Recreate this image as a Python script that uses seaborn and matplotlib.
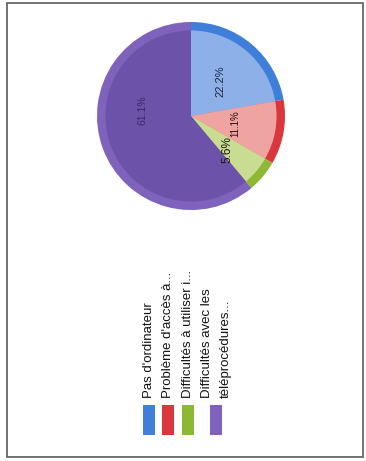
import matplotlib
matplotlib.use("Agg")
import matplotlib.pyplot as plt
from matplotlib.patches import Rectangle
import seaborn as sns

# ---- data ----
categories = ["Pas d'ordinateur", "Problème d'accès à...", "Difficultés à utiliser i...",
              "Difficultés avec les\ntéléprocédures..."]
values = [4, 2, 1, 11]
pct_labels = ["22.2%", "11.1%", "5.6%", "61.1%"]

sns.set_style("white")
plt.rcParams['font.family'] = ['Liberation Sans', 'DejaVu Sans']

ring_colors = sns.color_palette(["#3f7fd9", "#d8383c", "#8cb833", "#7e62bc"])
fill_colors = sns.color_palette(["#8db0e8", "#f0a4a2", "#c8dd92", "#6c52a8"])
label_colors = ["#1a2440", "#2a1010", "#1a1a10", "#3a2a62"]
label_sizes = [8, 7, 8.5, 7.5]

W, H = 366, 461
fig = plt.figure(figsize=(W / 100, H / 100), dpi=100)
fig.patch.set_facecolor("white")
ax = fig.add_axes([0, 0, 1, 1])

cx, cy, r = 191, H - 116, 94

# outer ring
ax.pie(values, colors=ring_colors, startangle=90, counterclock=False,
       center=(cx, cy), radius=r, frame=True,
       wedgeprops=dict(linewidth=0))
# inner fill
wedges, texts, autotexts = ax.pie(values, colors=fill_colors, startangle=90, counterclock=False,
                                  center=(cx, cy), radius=r * 0.91, frame=True,
                                  autopct=lambda p: "", pctdistance=0.53,
                                  wedgeprops=dict(linewidth=0))
for i, t in enumerate(autotexts):
    t.set_text(pct_labels[i])
    t.set_rotation(90)
    t.set_fontsize(label_sizes[i])
    t.set_color(label_colors[i])
    t.set_ha("center")
    t.set_va("center")
autotexts[3].set_position((143, H - 110))
autotexts[1].set_position((235, H - 124))
autotexts[2].set_position((227, H - 150))

ax.set_xlim(0, W)
ax.set_ylim(0, H)
ax.set_aspect("equal")
ax.axis("off")

# legend (rotated, as in the scan)
rect_x = [143, 162, 182, 210]
for i, lab in enumerate(categories):
    ax.add_patch(Rectangle((rect_x[i], H - 435), 12, 30, facecolor=ring_colors[i], edgecolor="none"))
lines_x = [149, 168, 188, 207, 226]
legend_lines = ["Pas d'ordinateur", "Problème d'accès à...", "Difficultés à utiliser i...",
                "Difficultés avec les", "téléprocédures..."]
for x, txt in zip(lines_x, legend_lines):
    ax.text(x, H - 398, txt, rotation=90, ha="center", va="bottom",
            fontsize=9.5, color="#111111")

# frame border
ax.add_patch(Rectangle((7, H - 457), 356, 454, facecolor="none", edgecolor="#5a5a5a", linewidth=1.2))

fig.savefig("out.png", dpi=100, facecolor="white")
